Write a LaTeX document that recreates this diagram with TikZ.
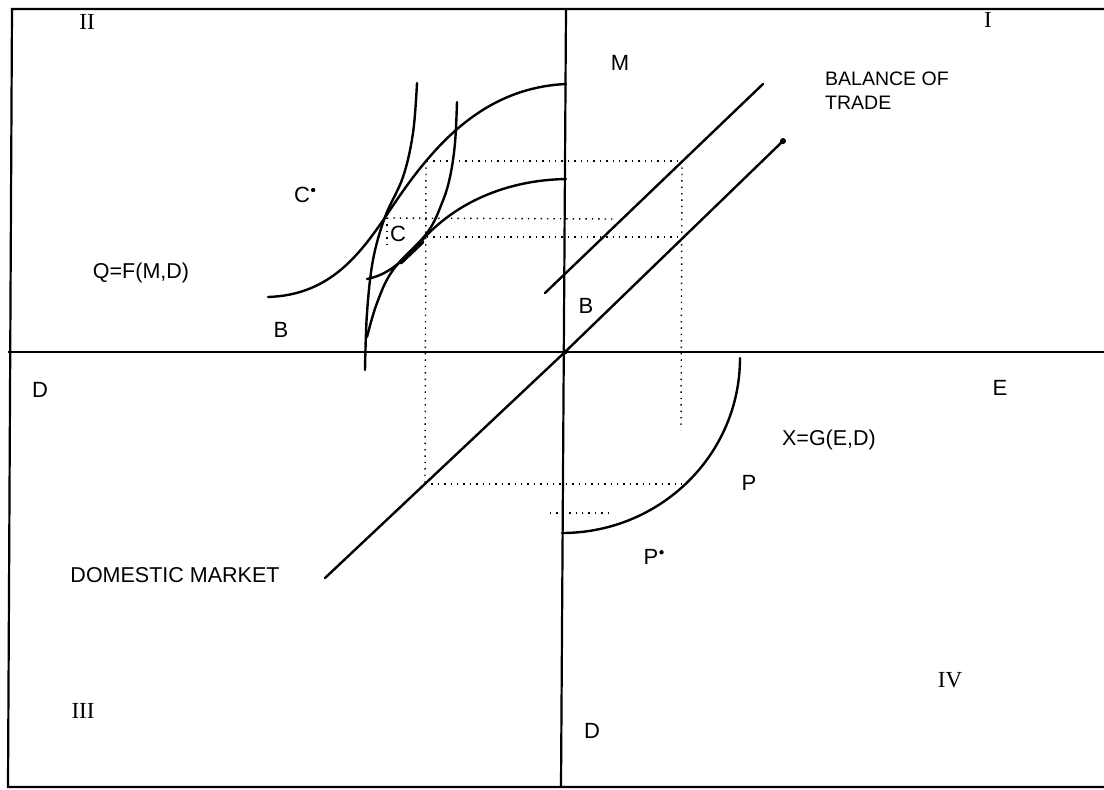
\documentclass[tikz,border=0pt]{standalone}
\usepackage{fontspec}
\setmainfont{Liberation Sans}
\newfontfamily\romfont{Liberation Serif}
\begin{document}
\begin{tikzpicture}[x=1pt,y=-1pt,
  axisline/.style={line width=2.2pt,black},
  curveline/.style={line width=2.4pt,black,line cap=round},
  guide/.style={line width=1.4pt,black,dash pattern=on 1.4pt off 5pt},
  lbl/.style={font=\fontsize{22}{24}\selectfont,inner sep=0pt},
  small/.style={font=\fontsize{21.5}{24}\selectfont,inner sep=0pt},
  roman/.style={font=\romfont\fontsize{23}{24}\selectfont,inner sep=0pt}]
\useasboundingbox (0,0) rectangle (1104,790);
% frame
\coordinate (tl) at (12,9);
\coordinate (tr) at (1104,9);
\coordinate (bl) at (8,787);
\coordinate (br) at (1104,787);
\draw[axisline] (tr) -- (tl) -- (bl) -- (br);
% axes
\coordinate (vt) at (566,9);
\coordinate (vb) at (561,787);
\coordinate (hl) at (8,352);
\coordinate (hr) at (1104,352);
\coordinate (O) at (565,352);
\draw[axisline] (vt) -- (vb);
\draw[axisline] (hl) -- (hr);
% dotted guides
\draw[guide] (427,161) -- (682,161);
\draw[guide] (387,218) -- (613,219);
\draw[guide] (427,237) -- (678,237);
\draw[guide] (426,161) -- (425,484);
\draw[guide] (682,161) -- (681,430);
\draw[guide] (387,218) -- (387,247);
\draw[guide] (425,484) -- (682,484);
\draw[guide] (550,513) -- (610,513);
% balance of trade lines
\coordinate (u1) at (545,293);
\coordinate (u2) at (763,84);
\draw[curveline] (u1) -- (u2);
\coordinate (l1) at (325,578);
\coordinate (l2) at (783,141);
\draw[curveline] (l1) -- (O) -- (l2);
\fill (l2) circle (3pt);
\fill (O) circle (2.5pt);
% quadrant II curves
\coordinate (a0) at (268,297);
\coordinate (a1) at (390,210);
\coordinate (a2) at (566,84);
\draw[curveline] (a0) .. controls (330,295) and (360,255) .. (a1)
                      .. controls (430,150) and (480,88) .. (a2);
\coordinate (b0) at (367,279);
\coordinate (b1) at (425,237);
\coordinate (b2) at (566,179);
\draw[curveline] (b0) .. controls (387,275) and (402,263) .. (b1)
                      .. controls (460,200) and (510,180) .. (b2);
\draw[curveline] plot[smooth,tension=0.6] coordinates {(365,370) (367,313) (373,260) (385,217) (403,177) (413,133) (417,83)};
\draw[curveline] plot[smooth,tension=0.6] coordinates {(367,337) (377,303) (393,270) (427,233) (442,203) (450,177) (455,143) (457,102)};
\draw[line width=4.5pt,line cap=round] (401,262) -- (422,242);
% quadrant IV curve
\coordinate (p0) at (740,358);
\coordinate (p1) at (562,533);
\draw[curveline] (p0) .. controls (740,455) and (660,533) .. (p1);
% labels
\node[roman] (nII) at (87,22) {II};
\node[roman] (nI) at (988,20) {I};
\node[roman] (nIII) at (83,711) {III};
\node[roman] (nIV) at (950,680) {IV};
\node[lbl] (nM) at (620,63) {M};
\node[align=left,anchor=west,inner sep=0pt,font=\fontsize{19.5}{24}\selectfont] (bot) at (825,91) {BALANCE OF\\TRADE};
\node[lbl] (cstar) at (302,195) {C};
\fill (cstar.north east) ++(3,3) circle (2.2pt);
\node[lbl] (nC) at (398,234) {C};
\node[small] (qf) at (141,273) {Q=F(M,D)};
\node[lbl] (nB1) at (281,330) {B};
\node[lbl] (nB2) at (586,306) {B};
\node[lbl] (nD1) at (40,390) {D};
\node[lbl] (nE) at (1000,388) {E};
\node[small] (xg) at (829,440) {X=G(E,D)};
\node[lbl] (nP) at (749,483) {P};
\node[lbl] (pstar) at (651,557) {P};
\fill (pstar.north east) ++(3,3) circle (2.2pt);
\node[small] (dm) at (175,575) {DOMESTIC MARKET};
\node[lbl] (nD2) at (592,731) {D};
\end{tikzpicture}
\end{document}
